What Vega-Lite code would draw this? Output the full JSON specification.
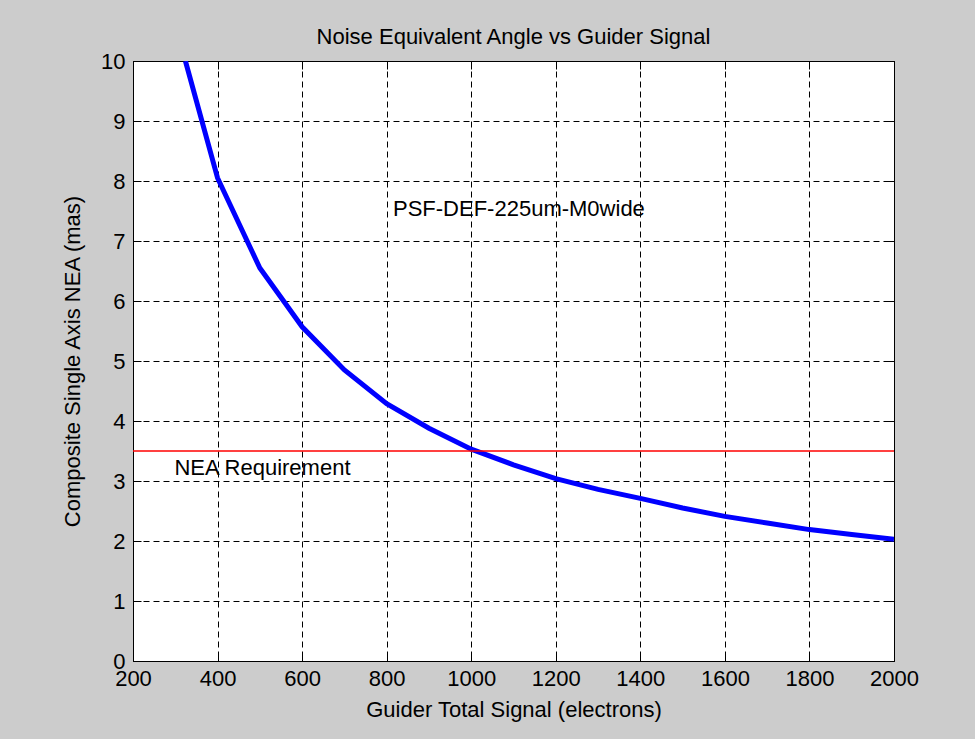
{
  "$schema": "https://vega.github.io/schema/vega-lite/v6.json",
  "width": 761,
  "height": 600,
  "autosize": {"type": "none"},
  "padding": {"left": 133, "top": 61, "right": 81, "bottom": 78},
  "background": "#cccccc",
  "title": {
    "text": "Noise Equivalent Angle vs Guider Signal",
    "anchor": "middle",
    "frame": "group",
    "baseline": "bottom",
    "offset": 12,
    "dy": 33,
    "fontSize": 22,
    "fontWeight": "normal",
    "font": "Liberation Sans",
    "color": "#000000"
  },
  "config": {
    "font": "Liberation Sans",
    "view": {"fill": "#ffffff", "stroke": "#000000", "strokeWidth": 1},
    "axis": {
      "domain": false,
      "labelFont": "Liberation Sans",
      "titleFont": "Liberation Sans",
      "labelFontSize": 22,
      "titleFontSize": 22,
      "labelColor": "#000000",
      "titleColor": "#000000",
      "titleFontWeight": "normal",
      "tickColor": "#000000",
      "tickSize": -8,
      "tickWidth": 1,
      "gridColor": "#000000",
      "gridOpacity": 1,
      "gridDash": [6, 4],
      "gridWidth": 1,
      "labelFlush": false,
      "labelOverlap": false
    }
  },
  "datasets": {
    "curve": [
      {"signal": 324, "nea": 10.0},
      {"signal": 400, "nea": 8.05},
      {"signal": 500, "nea": 6.55},
      {"signal": 600, "nea": 5.57},
      {"signal": 700, "nea": 4.85},
      {"signal": 800, "nea": 4.29},
      {"signal": 900, "nea": 3.88},
      {"signal": 1000, "nea": 3.53},
      {"signal": 1100, "nea": 3.27},
      {"signal": 1200, "nea": 3.04},
      {"signal": 1300, "nea": 2.86},
      {"signal": 1400, "nea": 2.71},
      {"signal": 1500, "nea": 2.55},
      {"signal": 1600, "nea": 2.41},
      {"signal": 1700, "nea": 2.30},
      {"signal": 1800, "nea": 2.19},
      {"signal": 1900, "nea": 2.11},
      {"signal": 2000, "nea": 2.03}
    ],
    "labels": [
      {"signal": 298, "nea": 3.22, "text": "NEA Requirement"},
      {"signal": 815, "nea": 7.53, "text": "PSF-DEF-225um-M0wide"}
    ],
    "req": [{"nea": 3.5}]
  },
  "layer": [
    {
      "data": {"name": "labels"},
      "mark": {"type": "point", "opacity": 0, "clip": true},
      "encoding": {
        "x": {
          "field": "signal", "type": "quantitative",
          "scale": {"domain": [200, 2000], "nice": false, "zero": false},
          "axis": {"orient": "top", "labels": false, "grid": false, "title": null,
                   "minExtent": 0, "maxExtent": 0,
                   "values": [200,400,600,800,1000,1200,1400,1600,1800,2000]}
        },
        "y": {
          "field": "nea", "type": "quantitative",
          "scale": {"domain": [0, 10], "nice": false},
          "axis": {"orient": "right", "labels": false, "grid": false, "title": null,
                   "minExtent": 0, "maxExtent": 0,
                   "values": [0,1,2,3,4,5,6,7,8,9,10]}
        }
      }
    },
    {
      "data": {"name": "curve"},
      "mark": {"type": "line", "color": "#0000ff", "strokeWidth": 5, "interpolate": "linear", "clip": true},
      "encoding": {
        "x": {
          "field": "signal", "type": "quantitative",
          "axis": {"orient": "bottom", "grid": true, "title": "Guider Total Signal (electrons)",
                   "format": "d",
                   "values": [200,400,600,800,1000,1200,1400,1600,1800,2000],
                   "labelPadding": 15, "titlePadding": 10}
        },
        "y": {
          "field": "nea", "type": "quantitative",
          "axis": {"orient": "left", "grid": true, "title": "Composite Single Axis NEA (mas)",
                   "values": [0,1,2,3,4,5,6,7,8,9,10],
                   "labelPadding": 16, "titlePadding": 16}
        }
      }
    },
    {
      "data": {"name": "req"},
      "mark": {"type": "rule", "color": "#ff0000", "strokeWidth": 1.5},
      "encoding": {
        "y": {"field": "nea", "type": "quantitative", "axis": null}
      }
    },
    {
      "data": {"name": "labels"},
      "mark": {"type": "text", "align": "left", "baseline": "middle", "fontSize": 22, "font": "Liberation Sans", "color": "#000000"},
      "encoding": {
        "x": {"field": "signal", "type": "quantitative", "axis": null},
        "y": {"field": "nea", "type": "quantitative", "axis": null},
        "text": {"field": "text"}
      }
    }
  ],
  "resolve": {"axis": {"x": "independent", "y": "independent"}}
}
